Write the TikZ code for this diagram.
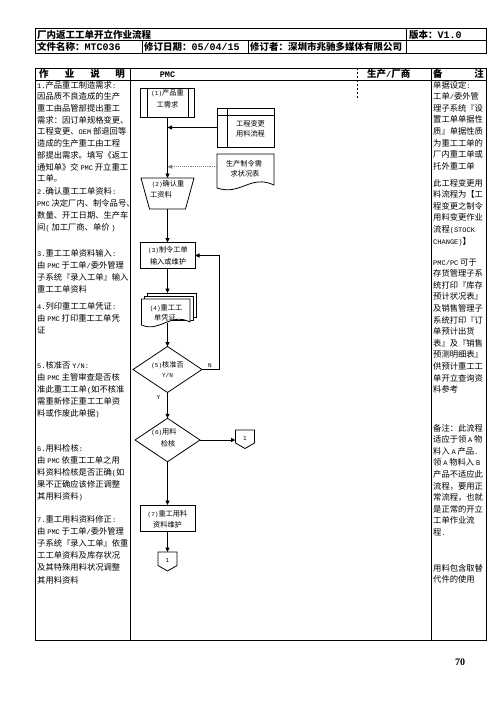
\documentclass[tikz,border=0pt]{standalone}
\usepackage{fontspec}
\usetikzlibrary{arrows.meta}
\newfontfamily\cjk{Noto Sans CJK SC}
\newfontfamily\monoft{Liberation Mono}
\newfontfamily\serift{Liberation Serif}
\newcommand\Lm[1]{{\monoft\fontsize{7}{9}\selectfont#1}}
\newcommand\Ls{\hspace{1.8pt}}
\newcommand\Lmh[1]{{\monoft\fontsize{10}{11}\selectfont#1}}
\newcommand\Lmb[1]{{\monoft\bfseries\fontsize{8.5}{10}\selectfont#1}}
\newcommand\Lfm[1]{{\monoft\fontsize{6}{8}\selectfont#1}}
\begin{document}
\begin{tikzpicture}[x=1pt,y=-1pt,
  tx/.style={inner sep=0pt, anchor=base west, font=\cjk\fontsize{8.3}{10}\selectfont},
  hd/.style={inner sep=0pt, anchor=base west, font=\cjk\bfseries\fontsize{9.5}{11}\selectfont},
  fl/.style={inner sep=0pt, anchor=base, font=\cjk\fontsize{7.2}{9}\selectfont},
  sh/.style={inner sep=0pt, outer sep=0pt, draw=none},
  tbl/.style={line width=0.9pt, black},
  shp/.style={line width=0.8pt, black, fill=white},
  flow/.style={line width=0.9pt, -{Triangle[length=4.5pt,width=4pt]}},
  dflow/.style={line width=0.9pt, gray, densely dotted, -{Triangle[length=4.5pt,width=4pt]}}]
\useasboundingbox (0,0) rectangle (496,702);
\fill[white] (0,0) rectangle (496,702);

% ---------- header table ----------
\draw[tbl] (35,28) rectangle (486,53);
\draw[tbl] (35,40.5) -- (486,40.5);
\draw[tbl] (406,28) -- (406,53);
\draw[tbl] (142,40.5) -- (142,53) (248,40.5) -- (248,53);
\node[hd] (title) at (37,38) {厂内返工工单开立作业流程};
\node[hd] (ver) at (409,38) {版本：\Lmh{V1.0}};
\node[hd] (fname) at (37,50.3) {文件名称：\Lmh{MTC036}};
\node[hd] (rdate) at (144,50.3) {修订日期：\Lmh{05/04/15}};
\node[hd] (rev) at (250,50.3) {修订者：深圳市兆驰多媒体有限公司};

% ---------- main table ----------
\draw[tbl] (35,68) rectangle (486,640);
\draw[tbl] (35,80) -- (486,80);
\draw[tbl] (130,68) -- (130,640);
\draw[tbl] (431,68) -- (431,640);
\draw[line width=0.5pt, dash pattern=on 2pt off 2pt] (357,68) -- (357,100);
\node[hd, anchor=base] (h1) at (43.8,77.5) {作};
\node[hd, anchor=base] (h2) at (69.5,77.5) {业};
\node[hd, anchor=base] (h3) at (95,77.5) {说};
\node[hd, anchor=base] (h4) at (120,77.5) {明};
\node[inner sep=0pt, anchor=base] (hpmc) at (167.5,77.5) {\Lmb{PMC}};
\node[hd] (hprod) at (367,77.5) {生产\Lmb{/}厂商};
\node[hd] (hn1) at (433,77.5) {备};
\node[hd, anchor=base east] (hn2) at (484,77.5) {注};

% ---------- left column ----------
\foreach \tx [count=\i from 0] in {
 {\Lm{1.}产品重工制造需求\Lm{:}},
 {因品质不良造成的生产},
 {重工由品管部提出重工},
 {需求：因订单规格变更、},
 {工程变更、\Lm{OEM}\Ls 部退回等},
 {造成的生产重工由工程},
 {部提出需求。填写《返工},
 {通知单》交\Ls\Lm{PMC}\Ls 开立重工},
 {工单。}}{\node[tx] (La\i) at (37,{88.1+11.7*\i}) {\tx};}
\foreach \tx [count=\i from 0] in {
 {\Lm{2.}确认重工工单资料\Lm{:}},
 {\Lm{PMC}\Ls 决定厂内、制令品号、},
 {数量、开工日期、生产车},
 {间\Lm{(}\Ls 加工厂商、单价\Ls\Lm{)}}}{\node[tx] (Lb\i) at (37,{194.1+12*\i}) {\tx};}
\foreach \tx [count=\i from 0] in {
 {\Lm{3.}重工工单资料输入\Lm{:}},
 {由\Ls\Lm{PMC}\Ls 于工单\Lm{/}委外管理},
 {子系统『录入工单』输入},
 {重工工单资料}}{\node[tx] (Lc\i) at (37,{256.1+12*\i}) {\tx};}
\foreach \tx [count=\i from 0] in {
 {\Lm{4.}列印重工工单凭证\Lm{:}},
 {由\Ls\Lm{PMC}\Ls 打印重工工单凭},
 {证}}{\node[tx] (Ld\i) at (37,{309.1+12*\i}) {\tx};}
\foreach \tx [count=\i from 0] in {
 {\Lm{5.}核准否\Ls\Lm{Y/N:}},
 {由\Ls\Lm{PMC}\Ls 主管审查是否核},
 {准此重工工单\Lm{(}如不核准},
 {需重新修正重工工单资},
 {料或作废此单据\Lm{)}}}{\node[tx] (Le\i) at (37,{368.1+12.2*\i}) {\tx};}
\foreach \tx [count=\i from 0] in {
 {\Lm{6.}用料检核\Lm{:}},
 {由\Ls\Lm{PMC}\Ls 依重工工单之用},
 {料资料检核是否正确\Lm{(}如},
 {果不正确应该修正调整},
 {其用料资料\Lm{)}}}{\node[tx] (Lf\i) at (37,{451.1+12.2*\i}) {\tx};}
\foreach \tx [count=\i from 0] in {
 {\Lm{7.}重工用料资料修正\Lm{:}},
 {由\Ls\Lm{PMC}\Ls 于工单\Lm{/}委外管理},
 {子系统『录入工单』依重},
 {工工单资料及库存状况},
 {及其特殊用料状况调整},
 {其用料资料}}{\node[tx] (Lg\i) at (37,{522.1+12.2*\i}) {\tx};}

% ---------- remarks column ----------
\foreach \tx [count=\i from 0] in {
 {单据设定\Lm{:}},
 {工单\Lm{/}委外管},
 {理子系统『设},
 {置工单单据性},
 {质』单据性质},
 {为重工工单的},
 {厂内重工单或},
 {托外重工单}}{\node[tx] (Ra\i) at (433,{88.1+11.6*\i}) {\tx};}
\foreach \tx [count=\i from 0] in {
 {此工程变更用},
 {料流程为【工},
 {程变更之制令},
 {用料变更作业},
 {流程\Lm{(STOCK}},
 {\Lm{CHANGE)}】}}{\node[tx] (Rb\i) at (433,{186.1+11.6*\i}) {\tx};}
\foreach \tx [count=\i from 0] in {
 {\Lm{PMC/PC}\Ls 可于},
 {存货管理子系},
 {统打印『库存},
 {预计状况表』},
 {及销售管理子},
 {系统打印『订},
 {单预计出货},
 {表』及『销售},
 {预测明细表』},
 {供预计重工工},
 {单开立查询资},
 {料参考}}{\node[tx] (Rc\i) at (433,{265.1+11.6*\i}) {\tx};}
\foreach \tx [count=\i from 0] in {
 {备注：此流程},
 {适应于领\Ls\Lm{A}\Ls 物},
 {料入\Ls\Lm{A}\Ls 产品\Lm{.}},
 {领\Ls\Lm{A}\Ls 物料入\Ls\Lm{B}},
 {产品不适应此},
 {流程，要用正},
 {常流程，也就},
 {是正常的开立},
 {工单作业流},
 {程\Lm{.}}}{\node[tx] (Rd\i) at (433,{431.1+11.6*\i}) {\tx};}
\foreach \tx [count=\i from 0] in {
 {用料包含取替},
 {代件的使用}}{\node[tx] (Re\i) at (433,{571.1+11.6*\i}) {\tx};}

% ---------- flow shapes ----------
\node[sh, minimum width=54pt, minimum height=29.5pt] (p1) at (167.5,102.75) {};
\draw[shp] (p1.north west) rectangle (p1.south east);
\draw[shp] (147,88) -- (147,117.5) (188,88) -- (188,117.5);
\node[fl] (p1t1) at (167.5,95) {\Lfm{(1)}产品重};
\node[fl] (p1t2) at (167.5,107) {工需求};

\node[sh, minimum width=57pt, minimum height=39pt] (eng) at (245.5,127.5) {};
\draw[shp] (eng.north west) rectangle (eng.south east);
\draw[shp] (227.5,108) -- (227.5,147) (217,115) -- (274,115);
\node[fl] (engt1) at (250.5,126) {工程变更};
\node[fl] (engt2) at (250.5,136) {用料流程};

\node[sh, minimum width=57pt, minimum height=32pt] (doc1) at (245.5,170) {};
\draw[shp] (217,154) -- (274,154) -- (274,185) .. controls (250,174) and (241,196) .. (217,188) -- cycle;
\node[fl] (d1t1) at (244,166) {生产制令需};
\node[fl] (d1t2) at (245,176) {求状况表};

\node[sh, minimum width=53pt, minimum height=31pt] (p2) at (167.5,193.5) {};
\draw[shp] (141,178) -- (194,178) -- (185.5,209) -- (149.5,209) -- cycle;
\node[fl] (p2t1) at (168,186.7) {\Lfm{(2)}确认重};
\node[fl] (p2t2) at (161,197.7) {工资料};

\node[sh, minimum width=55pt, minimum height=26pt] (p3) at (167.5,255.5) {};
\draw[shp] (p3.north west) rectangle (p3.south east);
\node[fl] (p3t1) at (168,252.7) {\Lfm{(3)}制令工单};
\node[fl] (p3t2) at (168,264.2) {输入或维护};

\node[sh, minimum width=48.5pt, minimum height=24pt] (p4b) at (171.75,305) {};
\draw[shp] (147.5,293) rectangle (196,317);
\draw[shp] (144.5,296) rectangle (193,320);
\node[sh, minimum width=48.5pt, minimum height=24pt] (p4) at (165.75,311) {};
\draw[shp] (141.5,299) -- (190,299) -- (190,322) .. controls (170,312) and (160,333) .. (141.5,325) -- cycle;
\node[fl] (p4t1) at (166,310) {\Lfm{(4)}重工工};
\node[fl] (p4t2) at (165,320.2) {单凭证};

\node[sh, minimum width=69pt, minimum height=46pt] (p5) at (167.5,369.5) {};
\draw[shp] (p5.north) -- (p5.east) -- (p5.south) -- (p5.west) -- cycle;
\node[fl] (p5t1) at (167.5,367.7) {\Lfm{(5)}核准否};
\node[fl] (p5t2) at (167.5,377.2) {\Lfm{Y/N}};

\node[sh, minimum width=65pt, minimum height=43.5pt] (p6) at (167.5,440) {};
\draw[shp] (p6.north) -- (p6.east) -- (p6.south) -- (p6.west) -- cycle;
\node[fl] (p6t1) at (164,434.7) {\Lfm{(6)}用料};
\node[fl] (p6t2) at (168,446.7) {检核};

\node[sh, minimum width=19pt, minimum height=18.5pt] (c1) at (245,439.25) {};
\draw[shp] (235.5,430) -- (254.5,430) -- (254.5,443) -- (245,448.5) -- (235.5,443) -- cycle;
\node[fl] (c1t) at (245,440.5) {\Lfm{1}};

\node[sh, minimum width=55pt, minimum height=26.5pt] (p7) at (167.5,518.25) {};
\draw[shp] (p7.north west) rectangle (p7.south east);
\node[fl] (p7t1) at (167.5,516.2) {\Lfm{(7)}重工用料};
\node[fl] (p7t2) at (167.5,527.2) {资料维护};

\node[sh, minimum width=19pt, minimum height=19pt] (c2) at (167.5,561.5) {};
\draw[shp] (158,552) -- (177,552) -- (177,565.5) -- (167.5,571) -- (158,565.5) -- cycle;
\node[fl] (c2t) at (167.5,562.5) {\Lfm{1}};

% ---------- connectors ----------
\draw[flow] (p1.south) -- (p2.north);
\draw[flow] (eng.west) -- (eng.west -| p1.south);
\coordinate (d1) at ([yshift=3.3pt]doc1.west);
\draw[dflow] (d1) -- (d1 -| p1.south);
\draw[flow] (p2.south) -- (p3.north);
\draw[flow] (p3.south) -- (p3.south |- p4b.north);
\draw[flow] (p5.north |- p4.south) -- (p5.north);
\coordinate (nx) at (219.5,369.5);
\draw[flow] (p5.east) -- (nx) |- (p3.east);
\node[inner sep=0pt, anchor=base] (nlab) at (210,367) {\Lfm{N}};
\node[inner sep=0pt, anchor=base] (ylab) at (158.5,399) {\Lfm{Y}};
\draw[flow] (p5.south) -- (p6.north);
\draw[flow] (p6.east) -- (p6.east -| c1.west);
\draw[flow] (p6.south) -- (p7.north);
\draw[flow] (p7.south) -- (c2.north);

\node[inner sep=0pt, anchor=base] (pg) at (460,665) {\serift\bfseries\fontsize{10}{12}\selectfont 70};
\end{tikzpicture}
\end{document}
